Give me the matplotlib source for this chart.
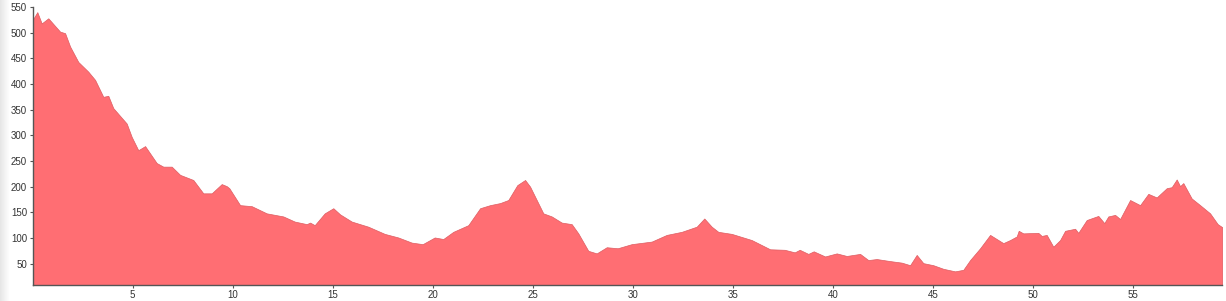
import numpy as np
import matplotlib
matplotlib.use('Agg')
import matplotlib.pyplot as plt

#=========================profile data (distance, elevation)==========================

dist = [0.0, 0.23, 0.45, 0.78, 1.37, 1.62, 1.87, 2.28, 2.78, 3.12, 3.53, 3.78, 4.03, 4.7,
        4.95, 5.28, 5.62, 6.2, 6.53, 6.95, 7.37, 8.03, 8.53, 8.95, 9.45, 9.7, 9.83, 10.37,
        10.95, 11.7, 12.53, 13.1, 13.7, 13.87, 14.1, 14.6, 15.03, 15.37, 15.95, 16.78,
        17.6, 18.28, 18.95, 19.5, 20.1, 20.53, 21.03, 21.78, 22.37, 22.87, 23.37, 23.78,
        24.23, 24.62, 24.87, 25.2, 25.53, 25.95, 26.45, 26.95, 27.28, 27.78, 28.2, 28.7,
        29.25, 29.95, 30.95, 31.7, 32.45, 33.2, 33.58, 33.95, 34.28, 34.95, 35.95, 36.87,
        37.6, 38.1, 38.35, 38.78, 39.05, 39.62, 40.2, 40.7, 41.37, 41.78, 42.2, 42.87,
        43.45, 43.87, 44.2, 44.53, 45.03, 45.53, 46.12, 46.53, 46.87, 47.37, 47.87, 48.2,
        48.53, 48.87, 49.2, 49.3, 49.53, 50.28, 50.45, 50.7, 51.03, 51.37, 51.62, 52.12,
        52.28, 52.7, 53.28, 53.58, 53.78, 54.12, 54.37, 54.87, 55.37, 55.78, 56.2, 56.7,
        56.95, 57.2, 57.37, 57.53, 57.95, 58.37, 58.87, 59.25, 59.48]

elev = [525, 540, 518, 528, 502, 499, 473, 443, 424, 408, 375, 377, 353, 323,
        297, 271, 279, 246, 239, 239, 223, 213, 187, 187, 205, 201, 197, 164,
        162, 148, 142, 132, 127, 130, 125, 148, 158, 146, 132, 122,
        108, 101, 91, 88, 101, 98, 112, 125, 158, 164, 168, 174,
        203, 213, 200, 174, 148, 142, 130, 127, 109, 75, 70, 82,
        80, 88, 93, 106, 112, 122, 138, 122, 112, 108, 96, 78,
        77, 72, 77, 69, 74, 64, 70, 65, 69, 57, 59, 55,
        52, 47, 67, 51, 47, 40, 35, 38, 57, 80, 106, 98,
        90, 96, 103, 114, 109, 110, 104, 106, 83, 96, 114, 118,
        110, 135, 143, 129, 142, 145, 137, 174, 164, 186, 179, 197,
        199, 214, 201, 207, 177, 164, 148, 127, 121]

x_ticks = [5, 10, 15, 20, 25, 30, 35, 40, 45, 50, 55]
y_ticks = [50, 100, 150, 200, 250, 300, 350, 400, 450, 500, 550]

#==============================plot=====================================

plt.rcParams['font.family'] = ['Liberation Sans', 'DejaVu Sans']

W, H = 1226, 301
fig = plt.figure(figsize=(W / 100, H / 100), dpi=100)

# faint grey band on the left edge of the screenshot
band = fig.add_axes([0, 0, 10 / W, 1])
band.imshow(np.linspace(0.9, 1.0, 50).reshape(1, -1), cmap='gray', vmin=0, vmax=1,
            aspect='auto', extent=[0, 1, 0, 1])
band.set_axis_off()

ax = fig.add_axes([32.7 / W, 16.3 / H, (1222.3 - 32.7) / W, (284.7 - 7) / H])
ax.fill_between(dist, elev, 0, facecolor='#ff6e73', edgecolor='#dd5c61', linewidth=0.5)

ax.set_xlim(0, 59.48)
ax.set_ylim(9, 550)
ax.set_xticks(x_ticks)
ax.set_yticks(y_ticks)

for side in ['top', 'right']:
    ax.spines[side].set_visible(False)
for side in ['left', 'bottom']:
    ax.spines[side].set_color('#555555')
    ax.spines[side].set_linewidth(1)

ax.tick_params(axis='both', length=2.5, width=0.8, color='#555555',
               labelsize=7, labelcolor='#333333', pad=1.5)

fig.savefig('out.png', dpi=100)
